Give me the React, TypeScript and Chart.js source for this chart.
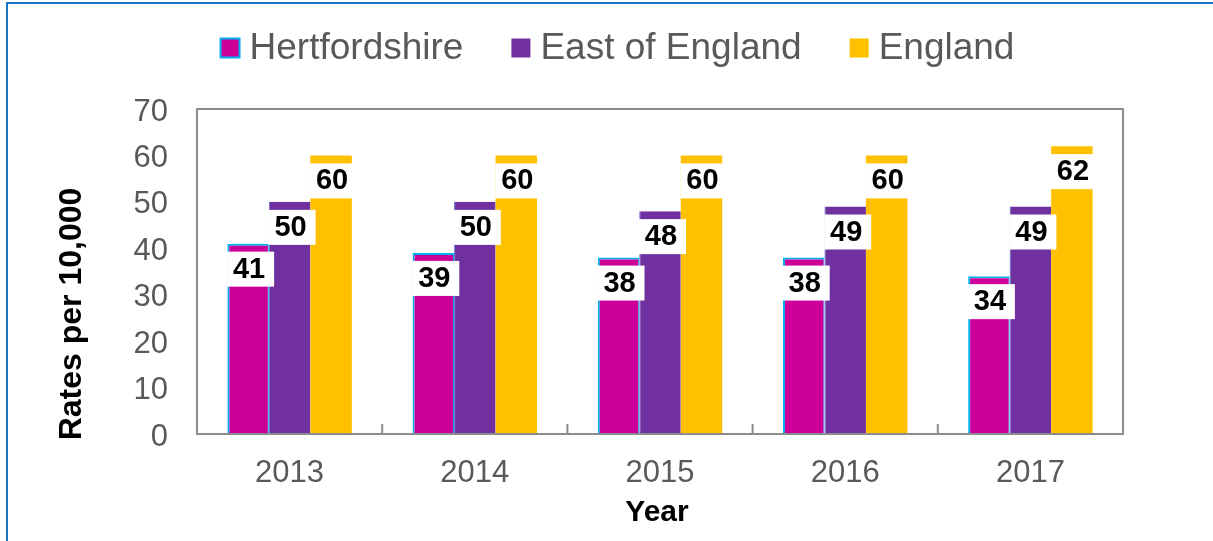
import React, { useEffect, useRef } from "react";
import { Chart, registerables } from "chart.js";

Chart.register(...registerables);

const years = ["2013", "2014", "2015", "2016", "2017"];
const hertfordshire = [41, 39, 38, 38, 34];
const eastOfEngland = [50, 50, 48, 49, 49];
const england = [60, 60, 60, 60, 62];
const seriesNames = ["Hertfordshire", "East of England", "England"];
const seriesColors = ["#CC0099", "#7030A0", "#FFC000"];
const yTicks = [0, 10, 20, 30, 40, 50, 60, 70];

const FONT = "'Liberation Sans', Arial, sans-serif";
const GREY_TEXT = "#595959";
const AXIS_GREY = "#8C8C8C";

const customPlugin = {
  id: "custom",
  afterDatasetsDraw(chart: any) {
    const ctx = chart.ctx;
    ctx.save();
    ctx.font = `bold 29px ${FONT}`;
    ctx.textAlign = "center";
    ctx.textBaseline = "middle";
    chart.data.datasets.forEach((ds: any, di: number) => {
      const meta = chart.getDatasetMeta(di);
      meta.data.forEach((bar: any, i: number) => {
        const cx = bar.x;
        const top = bar.y + 8;
        ctx.fillStyle = "#FFFFFF";
        ctx.fillRect(cx - 21, top, 47, 35);
        ctx.fillStyle = "#000000";
        ctx.fillText(String(ds.data[i]), cx + 1, top + 18);
      });
    });
    ctx.restore();
  },
  afterDraw(chart: any) {
    const ctx = chart.ctx;
    const area = chart.chartArea;
    const xScale = chart.scales.x;
    ctx.save();
    // outer blue frame
    ctx.strokeStyle = "#1A75C4";
    ctx.lineWidth = 2;
    ctx.beginPath();
    ctx.moveTo(7, 541);
    ctx.lineTo(7, 3);
    ctx.lineTo(1213, 3);
    ctx.stroke();

    // plot box
    ctx.strokeStyle = AXIS_GREY;
    ctx.lineWidth = 2;
    ctx.strokeRect(area.left, area.top, area.right - area.left, area.bottom - area.top);

    // inner tick marks between categories
    for (let i = 1; i < years.length; i++) {
      const x = (xScale.getPixelForTick(i - 1) + xScale.getPixelForTick(i)) / 2;
      ctx.beginPath();
      ctx.moveTo(x, area.bottom);
      ctx.lineTo(x, area.bottom - 10);
      ctx.stroke();
    }

    // axis titles
    ctx.fillStyle = "#000000";
    ctx.textAlign = "center";
    ctx.textBaseline = "middle";
    ctx.font = `bold 30px ${FONT}`;
    ctx.fillText("Year", 657, 513);
    ctx.save();
    ctx.font = `bold 32px ${FONT}`;
    ctx.translate(72, 314);
    ctx.rotate(-Math.PI / 2);
    ctx.fillText("Rates per 10,000", 0, 0);
    ctx.restore();

    // legend
    ctx.font = `37px ${FONT}`;
    ctx.textAlign = "left";
    const box = 19;
    const gap = 10;
    const spacing = 48;
    const widths = seriesNames.map((n) => ctx.measureText(n).width);
    const total = widths.reduce((a, w) => a + box + gap + w, 0) + spacing * (seriesNames.length - 1);
    let x = 617.5 - total / 2;
    const cy = 48;
    seriesNames.forEach((name, i) => {
      ctx.fillStyle = seriesColors[i];
      ctx.fillRect(x, cy - box / 2, box, box);
      if (i === 0) {
        ctx.strokeStyle = "#00B0F0";
        ctx.lineWidth = 2;
        ctx.strokeRect(x, cy - box / 2, box, box);
      }
      ctx.fillStyle = GREY_TEXT;
      ctx.fillText(name, x + box + gap, cy + 1);
      x += box + gap + widths[i] + spacing;
    });
    ctx.restore();
  },
};

export default function App() {
  const canvasRef = useRef<HTMLCanvasElement | null>(null);

  useEffect(() => {
    if (!canvasRef.current) return;
    const chart = new Chart(canvasRef.current, {
      type: "bar",
      data: {
        labels: years,
        datasets: [
          {
            label: seriesNames[0],
            data: hertfordshire,
            backgroundColor: seriesColors[0],
            borderColor: "#00B0F0",
            borderWidth: { top: 2, left: 2, right: 1, bottom: 0 },
            borderSkipped: false,
          },
          {
            label: seriesNames[1],
            data: eastOfEngland,
            backgroundColor: seriesColors[1],
            borderColor: "#5A6BC8",
            borderWidth: { top: 0, left: 1, right: 0, bottom: 0 },
            borderSkipped: false,
          },
          {
            label: seriesNames[2],
            data: england,
            backgroundColor: seriesColors[2],
            borderWidth: 0,
          },
        ],
      },
      options: {
        responsive: false,
        animation: false,
        layout: { padding: { top: 109, right: 90, bottom: 0, left: 0 } },
        datasets: {
          bar: { categoryPercentage: 0.672, barPercentage: 1 },
        },
        plugins: {
          legend: { display: false },
          tooltip: { enabled: false },
        },
        scales: {
          x: {
            grid: { display: false, drawTicks: false },
            border: { display: false },
            ticks: {
              color: GREY_TEXT,
              font: { family: FONT, size: 31 },
              padding: 21,
              maxRotation: 0,
            },
            afterFit(scale: any) {
              scale.height = 107;
            },
          },
          y: {
            min: 0,
            max: 70,
            grid: { display: false, drawTicks: false },
            border: { display: false },
            afterBuildTicks(scale: any) {
              scale.ticks = yTicks.map((v) => ({ value: v }));
            },
            ticks: {
              color: GREY_TEXT,
              font: { family: FONT, size: 31 },
              padding: 29,
              labelOffset: 3,
            },
            afterFit(scale: any) {
              scale.width = 197;
            },
          },
        },
      },
      plugins: [customPlugin],
    });
    return () => chart.destroy();
  }, []);

  return (
    <div style={{ position: "absolute", left: 0, top: 0, width: 1213, height: 541, background: "#FFFFFF" }}>
      <canvas ref={canvasRef} width={1213} height={541} style={{ display: "block" }} />
    </div>
  );
}
